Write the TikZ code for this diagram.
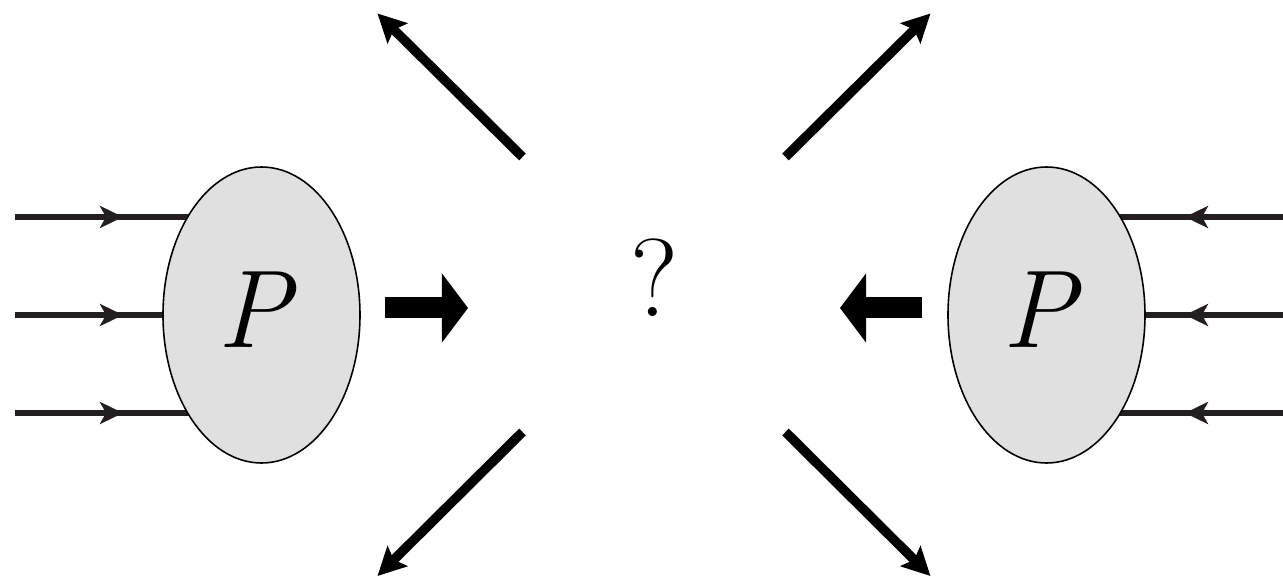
\documentclass[tikz,border=0pt]{standalone}
\usetikzlibrary{arrows.meta, positioning, shapes.geometric, decorations.markings, backgrounds}
\definecolor{cink}{HTML}{231F20}
\definecolor{cblob}{HTML}{E0E0E0}
\tikzset{
  every picture/.style={font=\fontsize{63}{70}\selectfont},
  blob/.style={ellipse, draw=black, fill=cblob, line width=0.9pt, minimum width=3.94cm, minimum height=5.92cm, inner sep=0pt},
  feed/.style={color=cink, line width=3.4pt, postaction={decorate},
    decoration={markings, mark=at position #1 with {\arrow{Stealth[length=0.46cm, width=0.44cm, inset=0.12cm]}}}},
  beam/.style={draw=black, line width=0.42cm, -{Triangle[length=0.52cm, width=1.38cm, line width=0pt]}},
  jet/.style={draw=black, line width=0.19cm, -{Stealth[length=0.56cm, width=0.56cm, inset=0.1cm]}},
}

\begin{document}
\begin{tikzpicture}
  \useasboundingbox (-13.08,-5.28) rectangle (12.58,6.30);
  % the two protons
  \node[blob] (pL) at (-7.85,0) {\raisebox{0.22cm}{\itshape P\kern0.3cm}};
  \node[blob] (pR) at (7.85,0) {\raisebox{0.22cm}{\itshape P\kern0.3cm}};
  \node (q) at (0,0.74) {?};
  % incoming partons
  \coordinate (inL1) at (-12.78,1.96);
  \coordinate (inL2) at (-12.78,0);
  \coordinate (inL3) at (-12.78,-1.96);
  \coordinate (inR1) at (12.58,1.96);
  \coordinate (inR2) at (12.58,0);
  \coordinate (inR3) at (12.58,-1.96);
  \begin{scope}[on background layer]
    \draw[feed=2.16cm] (inL1) -- (inL1 -| pL.center);
    \draw[feed=2.16cm] (inL2) -- (inL2 -| pL.center);
    \draw[feed=2.16cm] (inL3) -- (inL3 -| pL.center);
    \draw[feed=1.96cm] (inR1) -- (inR1 -| pR.center);
    \draw[feed=1.96cm] (inR2) -- (inR2 -| pR.center);
    \draw[feed=1.96cm] (inR3) -- (inR3 -| pR.center);
  \end{scope}
  % beams towards the collision
  \coordinate (bL) at (-5.38,0.14);
  \coordinate (bLtip) at (-3.72,0.14);
  \coordinate (bR) at (5.36,0.14);
  \coordinate (bRtip) at (3.72,0.14);
  \draw[beam] (bL) -- (bLtip);
  \draw[beam] (bR) -- (bRtip);
  % outgoing jets
  \coordinate (j1) at (-2.63,3.16);
  \coordinate (j1e) at (-5.53,6.03);
  \coordinate (j2) at (2.63,3.16);
  \coordinate (j2e) at (5.53,6.03);
  \coordinate (j3) at (-2.63,-2.34);
  \coordinate (j3e) at (-5.53,-5.22);
  \coordinate (j4) at (2.63,-2.34);
  \coordinate (j4e) at (5.53,-5.22);
  \draw[jet] (j1) -- (j1e);
  \draw[jet] (j2) -- (j2e);
  \draw[jet] (j3) -- (j3e);
  \draw[jet] (j4) -- (j4e);
\end{tikzpicture}
\end{document}
